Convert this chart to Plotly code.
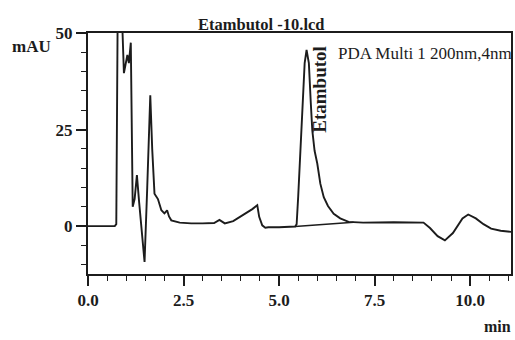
import plotly.graph_objects as go

# Chromatogram trace (time in min, signal in mAU); values above 50 are off-scale (clipped)
time_min = [0.0, 0.70, 0.74, 0.76, 0.78, 0.87, 0.94, 1.03, 1.07, 1.12, 1.17,
            1.22, 1.28, 1.34, 1.41, 1.48, 1.55, 1.63, 1.68, 1.74, 1.83, 1.92, 2.00, 2.07,
            2.12, 2.18, 2.40, 2.70, 3.00, 3.30, 3.44, 3.58, 3.80, 4.10, 4.30, 4.43, 4.48,
            4.56, 4.64, 4.72, 5.00, 5.42, 5.46, 5.50, 5.58, 5.67, 5.72, 5.78, 5.83, 5.87,
            5.93, 6.00, 6.08, 6.17, 6.28, 6.43, 6.60, 6.82, 7.20, 8.00, 8.78, 8.95, 9.15,
            9.34, 9.55, 9.80, 9.95, 10.15, 10.35, 10.55, 10.80, 11.07]
signal_mau = [0.0, 0.0, 0.5, 30.0, 60.0, 60.0, 39.6, 44.3, 42.2, 47.5, 5.0,
              7.0, 13.2, 6.0, -2.0, -9.3, 10.0, 33.9, 20.0, 8.4, 7.0, 4.1, 3.3, 4.1,
              2.5, 1.5, 0.9, 0.7, 0.7, 0.8, 1.6, 0.7, 1.3, 3.1, 4.4, 5.4, 2.4,
              0.2, -0.4, -0.3, -0.3, -0.1, 0.5, 7.5, 24.8, 42.2, 45.6, 42.2, 32.0, 24.8,
              19.5, 16.2, 11.0, 7.5, 5.2, 3.2, 2.0, 1.1, 0.9, 1.0, 0.9, -0.5, -2.6,
              -3.7, -1.8, 2.0, 3.0, 2.0, 0.5, -0.65, -1.2, -1.5]

# Integration baseline under the Etambutol peak
base_t = [5.42, 6.95]
base_y = [-0.1, 1.0]

x_ticks = [0.0, 2.5, 5.0, 7.5, 10.0]
x_tick_text = ["0.0", "2.5", "5.0", "7.5", "10.0"]
y_ticks = [0, 25, 50]

ink = "#1c1c1c"
serif = "Liberation Serif"

fig = go.Figure()
fig.add_trace(go.Scatter(x=time_min, y=signal_mau, mode="lines",
                         line=dict(color=ink, width=1.9), showlegend=False))
fig.add_trace(go.Scatter(x=base_t, y=base_y, mode="lines",
                         line=dict(color=ink, width=1.4), showlegend=False))

fig.update_layout(
    width=515, height=340,
    margin=dict(l=88, r=2, t=33, b=66),
    paper_bgcolor="white", plot_bgcolor="white",
    font=dict(family=serif, color=ink, size=16),
    xaxis=dict(range=[0, 11.07], tickvals=x_ticks, ticktext=x_tick_text,
               ticks="outside", ticklen=10, tickwidth=1.6, tickcolor=ink,
               showline=True, linecolor=ink, linewidth=2, mirror=True,
               showgrid=False, zeroline=False,
               tickfont=dict(family=serif, size=17, color=ink, weight="bold"),
               minor=dict(dtick=0.5, ticks="outside", ticklen=5, tickwidth=1.4, tickcolor=ink)),
    yaxis=dict(range=[-12.4, 50], tickvals=y_ticks,
               ticks="outside", ticklen=10, tickwidth=1.6, tickcolor=ink,
               showline=True, linecolor=ink, linewidth=2, mirror=True,
               showgrid=False, zeroline=False,
               tickfont=dict(family=serif, size=17, color=ink, weight="bold"),
               minor=dict(dtick=5, ticks="outside", ticklen=5, tickwidth=1.4, tickcolor=ink)),
)

def ann(text, x, y, size, bold=True, xanchor="center", yanchor="middle", angle=0):
    fig.add_annotation(text=text, x=x, y=y, xref="paper", yref="paper",
                       showarrow=False, xanchor=xanchor, yanchor=yanchor, textangle=angle,
                       font=dict(family=serif, size=size, color=ink,
                                 weight="bold" if bold else "normal"))

# plot area spans x 88..513, y 33..274 px
ann("Etambutol -10.lcd", 0.409, 1.037, 16.5)
ann("mAU", -0.134, 0.942, 17)
ann("PDA Multi 1 200nm,4nm", 0.586, 0.913, 17, bold=False, xanchor="left")
ann("Etambutol", 0.548, 0.768, 19, angle=-90)
ann("min", 0.968, -0.216, 16)

fig.write_html("out.html", config={"displayModeBar": False},
               post_script="document.body.style.margin='0';document.body.style.overflow='hidden';")
